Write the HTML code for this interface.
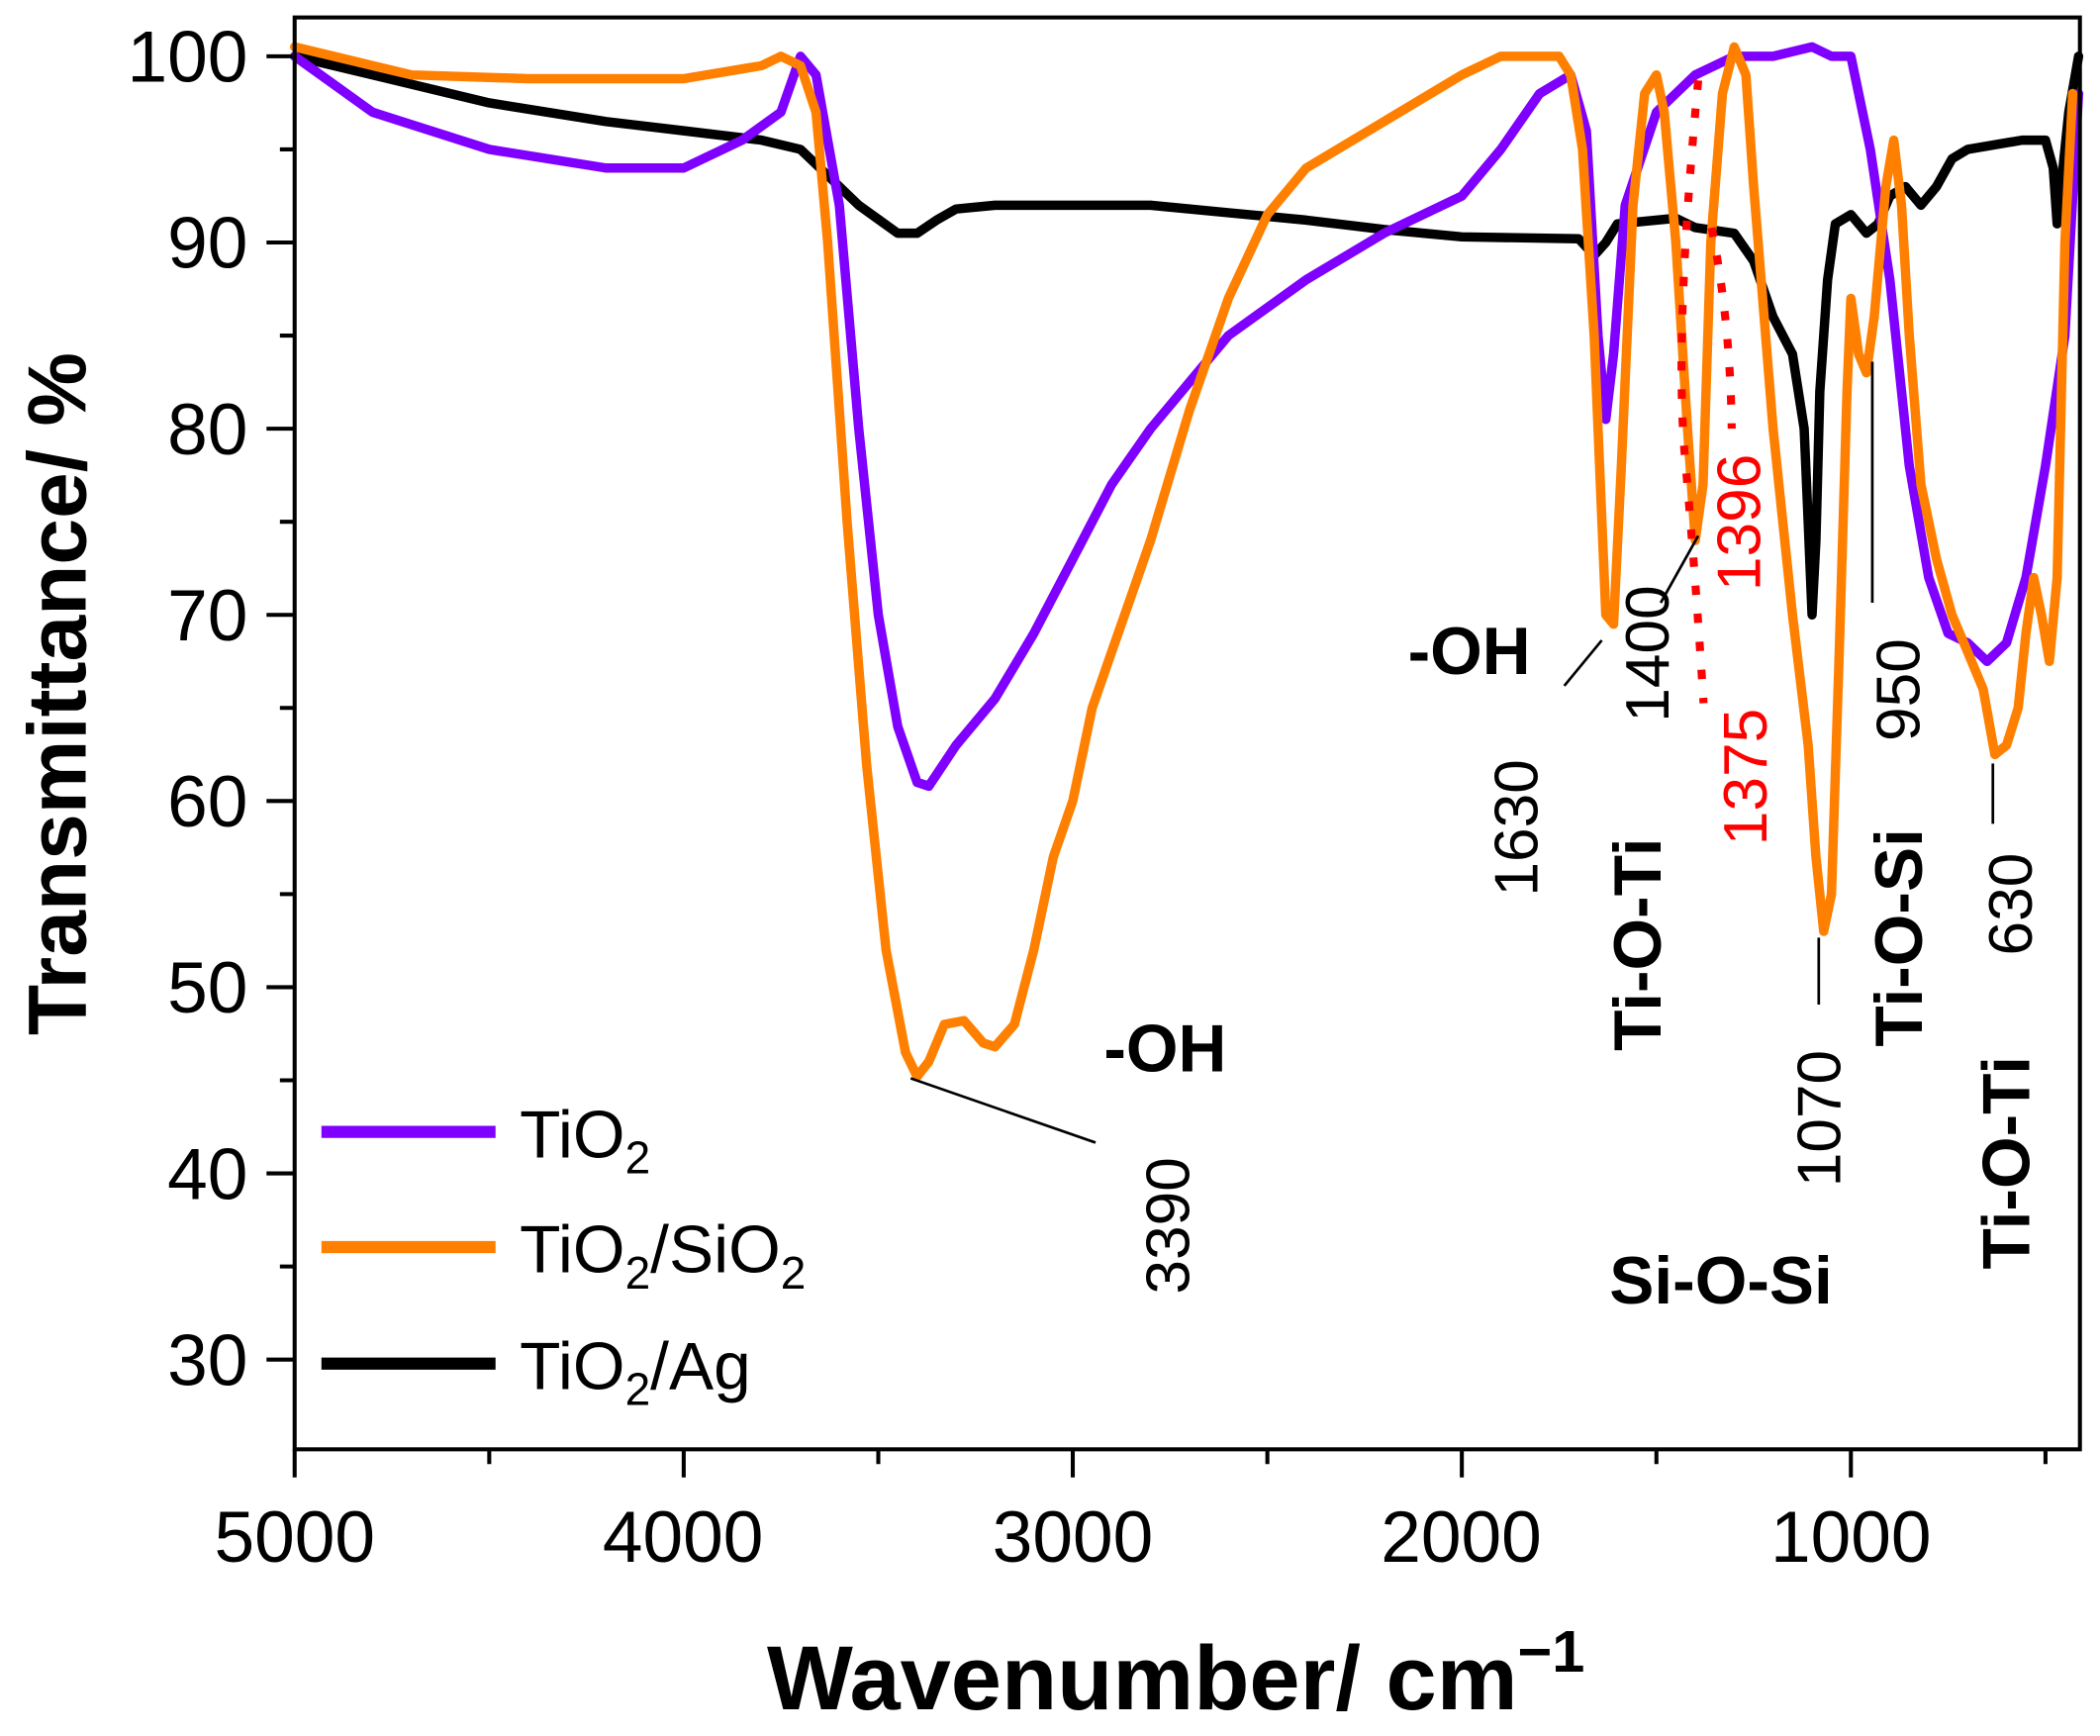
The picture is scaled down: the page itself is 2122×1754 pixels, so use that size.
<!DOCTYPE html>
<html><head><meta charset="utf-8"><style>html,body{margin:0;padding:0;background:#fff}svg{display:block}</style></head>
<body>
<svg width="2122" height="1754" viewBox="0 0 1568 1296" xmlns="http://www.w3.org/2000/svg" font-family="Liberation Sans, Arial, sans-serif">
<g fill="none" stroke-linejoin="round" stroke-linecap="round" stroke-width="7">
<path stroke="#000" d="M220 42L278.1 55.9L365.3 76.8L452.4 90.7L510.5 97.6L568.6 104.6L597.7 111.5L612.2 125.4L626.7 139.3L641.2 153.2L670.3 174.1L684.8 174.1L699.3 164.3L713.9 156L742.9 153.2L859.1 153.2L917.2 158.8L975.3 164.3L1033.4 171.3L1091.5 176.8L1178.7 178.2L1190.3 190.7L1199 181L1207.7 167.1L1251.3 162.9L1265.8 169.9L1294.9 174.1L1309.4 194.9L1323.9 236.6L1338.4 264.4L1347.1 320L1350.1 389.5L1353 459L1355.9 403.4L1358.8 292.2L1364.6 208.8L1370.4 167.1L1382 160.2L1387.8 167.1L1393.6 174.1L1402.3 167.1L1411.1 146.3L1422.7 139.3L1434.3 153.2L1445.9 139.3L1457.5 118.5L1469.2 111.5L1509.8 104.6L1527.3 104.6L1533.1 125.4L1536 167.1L1538.9 139.3L1544.7 83.7L1552 42"/>
<path stroke="#7f00ff" d="M220 42L278.1 83.7L365.3 111.5L452.4 125.4L510.5 125.4L554.1 104.6L583.1 83.7L597.7 42L609.3 55.9L626.7 153.2L641.2 320L655.8 459L670.3 542.4L684.8 584.1L693.5 586.9L713.9 556.3L742.9 521.6L771.9 472.9L801 417.3L830 361.7L859.1 320L917.2 250.5L975.3 208.8L1033.4 174.1L1091.5 146.3L1120.6 111.5L1149.6 69.8L1172.8 55.9L1184.5 97.6L1193.2 250.5L1199 313.1L1204.8 264.4L1213.5 153.2L1236.8 83.7L1251.3 69.8L1265.8 55.9L1294.9 42L1323.9 42L1353 35L1367.5 42L1382 42L1396.5 111.5L1411.1 208.8L1425.6 347.8L1440.1 431.2L1454.6 472.9L1469.2 479.9L1483.7 493.8L1498.2 479.9L1512.7 431.2L1527.3 347.8L1541.8 250.5L1552 69.8"/>
<path stroke="#ff8000" d="M220 35L307.2 55.9L394.3 58.7L510.5 58.7L568.6 49L583.1 42L597.7 49L609.3 83.7L618 181L632.5 389.5L647 570.2L661.6 709.2L676.1 785.7L684.8 803.7L693.5 792.6L705.1 764.8L719.7 762L734.2 778.7L742.9 781.5L757.4 764.8L771.9 709.2L786.5 639.7L801 598L815.5 528.5L830 486.8L844.6 445.1L859.1 403.4L888.2 306.1L917.2 222.7L946.3 160.2L975.3 125.4L1033.4 90.7L1091.5 55.9L1120.6 42L1164.1 42L1172.8 55.9L1181.6 111.5L1190.3 250.5L1196.1 389.5L1199 459L1204.8 466L1210.6 347.8L1219.3 153.2L1228 69.8L1236.8 55.9L1242.6 83.7L1251.3 181L1260 320L1265.8 403.4L1271.6 361.7L1277.4 181L1286.1 69.8L1294.9 35L1303.6 55.9L1309.4 139.3L1323.9 320L1338.4 459L1350.1 556.3L1355.9 639.7L1361.7 695.3L1367.5 667.5L1373.3 486.8L1379.1 292.2L1382 222.7L1387.8 264.4L1393.6 278.3L1399.4 236.6L1408.1 139.3L1414 104.6L1419.8 153.2L1425.6 250.5L1434.3 361.7L1445.9 417.3L1457.5 459L1469.2 486.8L1480.8 514.6L1489.5 563.3L1498.2 556.3L1506.9 528.5L1512.7 472.9L1518.5 431.2L1524.3 459L1530.2 493.8L1536 431.2L1541.8 181L1547.6 69.8"/>
</g>
<rect x="220" y="13" width="1333" height="1069" fill="none" stroke="#000" stroke-width="3"/>
<g stroke="#000" stroke-width="3">
<path d="M220 1082V1103M510.5 1082V1103M801 1082V1103M1091.5 1082V1103M1382 1082V1103M365.3 1082V1093M655.8 1082V1093M946.3 1082V1093M1236.8 1082V1093M1527.3 1082V1093"/>
<path d="M199 42H220M199 181H220M199 320H220M199 459H220M199 598H220M199 737H220M199 876H220M199 1015H220M209 111.5H220M209 250.5H220M209 389.5H220M209 528.5H220M209 667.5H220M209 806.5H220M209 945.5H220"/>
</g>
<g font-size="54" fill="#000">
<text x="185" y="61" text-anchor="end">100</text>
<text x="185" y="200" text-anchor="end">90</text>
<text x="185" y="339" text-anchor="end">80</text>
<text x="185" y="478" text-anchor="end">70</text>
<text x="185" y="617" text-anchor="end">60</text>
<text x="185" y="756" text-anchor="end">50</text>
<text x="185" y="895" text-anchor="end">40</text>
<text x="185" y="1034" text-anchor="end">30</text>
<text x="220" y="1166" text-anchor="middle">5000</text>
<text x="510" y="1166" text-anchor="middle">4000</text>
<text x="801" y="1166" text-anchor="middle">3000</text>
<text x="1091" y="1166" text-anchor="middle">2000</text>
<text x="1382" y="1166" text-anchor="middle">1000</text>
</g>
<text transform="translate(64,518) rotate(-90)" font-size="62" font-weight="bold" text-anchor="middle">Transmittance/ %</text>
<text x="878" y="1276" font-size="68" font-weight="bold" text-anchor="middle">Wavenumber/ cm<tspan font-size="44" dy="-28">−1</tspan></text>
<g stroke-width="9">
<line x1="240" y1="845" x2="370" y2="845" stroke="#7f00ff"/>
<line x1="240" y1="931" x2="370" y2="931" stroke="#ff8000"/>
<line x1="240" y1="1018" x2="370" y2="1018" stroke="#000"/>
</g>
<g font-size="50">
<text x="388" y="864">TiO<tspan font-size="34" dy="12">2</tspan></text>
<text x="388" y="950">TiO<tspan font-size="34" dy="12">2</tspan><tspan dy="-12">/SiO</tspan><tspan font-size="34" dy="12">2</tspan></text>
<text x="388" y="1037">TiO<tspan font-size="34" dy="12">2</tspan><tspan dy="-12">/Ag</tspan></text>
</g>
<g stroke="#000" stroke-width="2">
<line x1="680" y1="805" x2="818" y2="853"/>
<line x1="1168" y1="512" x2="1196" y2="478"/>
<line x1="1240" y1="450" x2="1268" y2="400"/>
<line x1="1358" y1="700" x2="1358" y2="750"/>
<line x1="1398" y1="270" x2="1398" y2="450"/>
<line x1="1488" y1="570" x2="1488" y2="615"/>
</g>
<g font-weight="bold" font-size="50">
<text x="870" y="800" text-anchor="middle">-OH</text>
<text x="1097" y="503" text-anchor="middle">-OH</text>
<text x="1285" y="973" text-anchor="middle">Si-O-Si</text>
<text transform="translate(1240,705) rotate(-90)" text-anchor="middle">Ti-O-Ti</text>
<text transform="translate(1435,700) rotate(-90)" text-anchor="middle">Ti-O-Si</text>
<text transform="translate(1515,868) rotate(-90)" text-anchor="middle">Ti-O-Ti</text>
</g>
<g font-size="46">
<text transform="translate(888,915) rotate(-90)" text-anchor="middle">3390</text>
<text transform="translate(1148,618) rotate(-90)" text-anchor="middle">1630</text>
<text transform="translate(1246,488) rotate(-90)" text-anchor="middle">1400</text>
<text transform="translate(1374,835) rotate(-90)" text-anchor="middle">1070</text>
<text transform="translate(1433,515) rotate(-90)" text-anchor="middle">950</text>
<text transform="translate(1517,675) rotate(-90)" text-anchor="middle">630</text>
<text transform="translate(1314,390) rotate(-90)" text-anchor="middle" fill="#ff0000">1396</text>
<text transform="translate(1319,580) rotate(-90)" text-anchor="middle" fill="#ff0000">1375</text>
</g>
<g stroke="#ff0000" stroke-width="6" stroke-dasharray="7 14" fill="none">
<path d="M1268 60 Q1250 250 1258 340 T1272 525"/>
<path d="M1278 170 Q1292 240 1293 320"/>
</g>
</svg>
</body></html>
